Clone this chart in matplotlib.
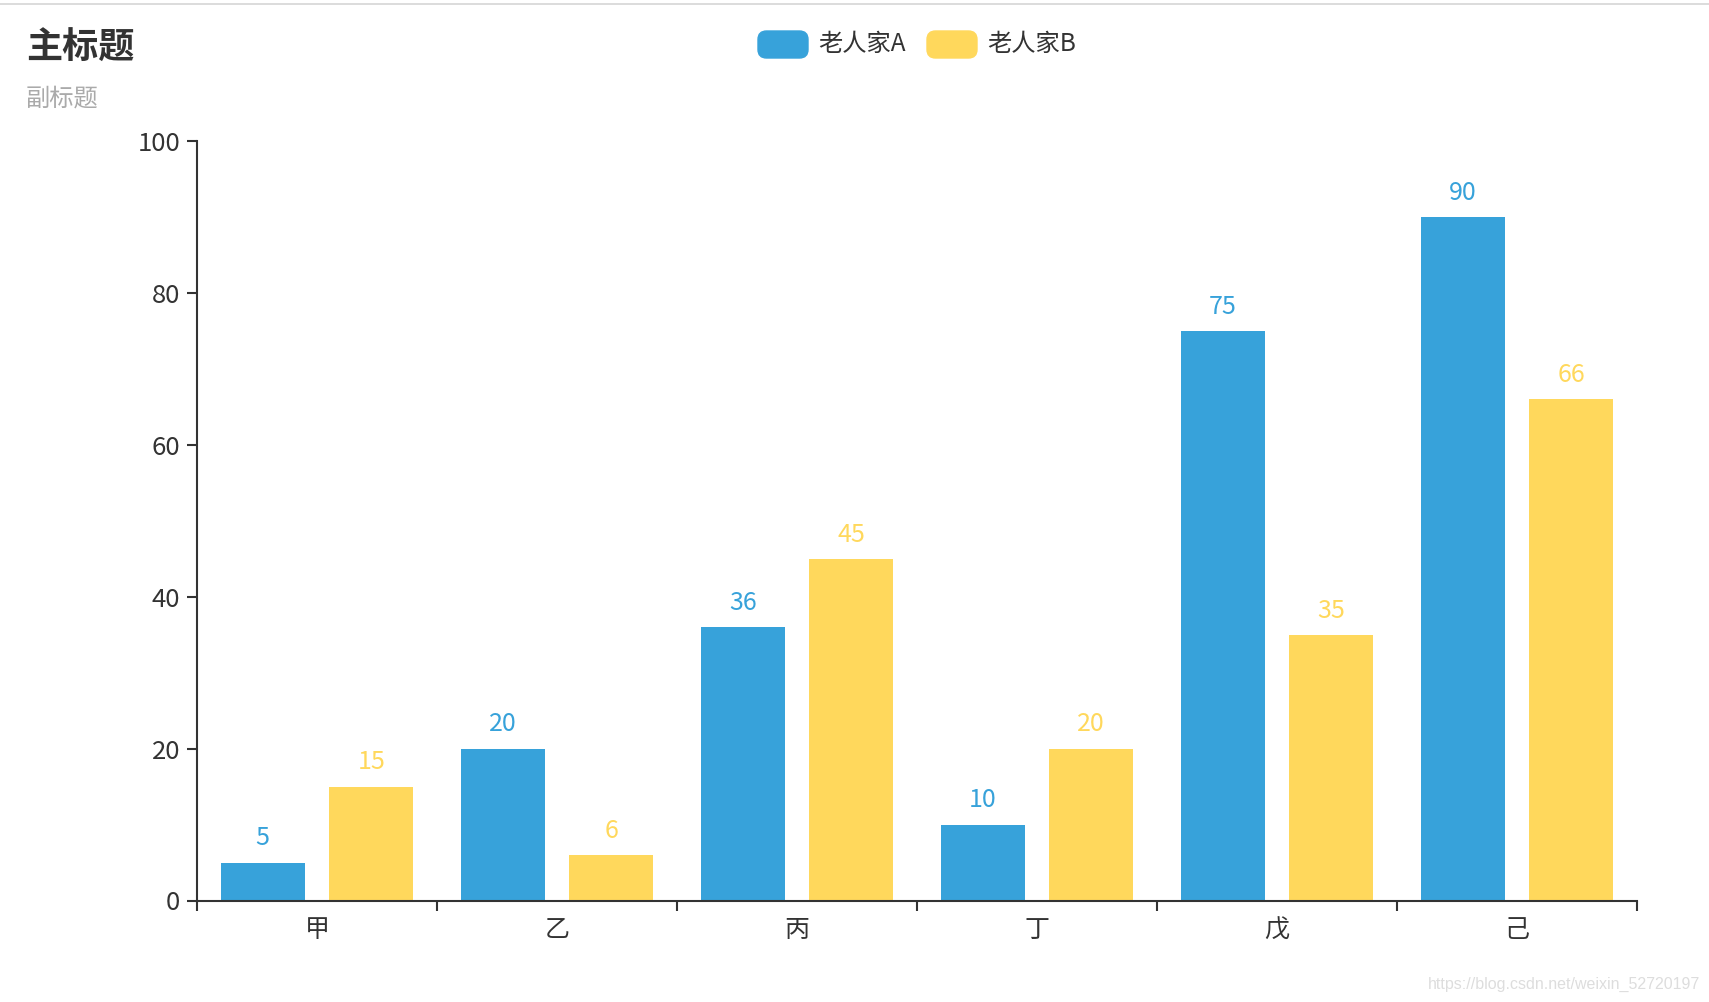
import matplotlib
matplotlib.use("Agg")
import matplotlib.pyplot as plt
import numpy as np
from matplotlib.patches import FancyBboxPatch, Rectangle

plt.rcParams['font.family'] = ['Noto Sans CJK SC', 'DejaVu Sans']

categories = ["甲", "乙", "丙", "丁", "戊", "己"]
series_names = ["老人家A", "老人家B"]
values_a = [5, 20, 36, 10, 75, 90]
values_b = [15, 6, 45, 20, 35, 66]
colors = ["#37A2DA", "#FFD85C"]
y_ticks = [0, 20, 40, 60, 80, 100]

W, H = 1709, 1002
fig = plt.figure(figsize=(W / 100, H / 100), dpi=100)
ax = fig.add_axes([197 / W, 1 - 900.5 / H, 1440 / W, 759.5 / H])

x = np.arange(len(categories))
bw = 0.348
off = 0.226
bars_a = ax.bar(x - off, values_a, width=bw, color=colors[0])
bars_b = ax.bar(x + off, values_b, width=bw, color=colors[1])
ax.bar_label(bars_a, padding=8, color=colors[0], fontsize=18)
ax.bar_label(bars_b, padding=8, color=colors[1], fontsize=18)

ax.set_xlim(-0.5, len(categories) - 0.5)
ax.set_ylim(0, 100)
ax.set_yticks(y_ticks)
ax.set_yticklabels([str(v) for v in y_ticks])
ax.set_xticks(np.arange(len(categories) + 1) - 0.5)
ax.set_xticklabels([])
ax.set_xticks(x, minor=True)
ax.set_xticklabels(categories, minor=True)

for side in ["top", "right"]:
    ax.spines[side].set_visible(False)
for side in ["left", "bottom"]:
    ax.spines[side].set_color("#333333")
    ax.spines[side].set_linewidth(1.5)
ax.tick_params(axis="both", which="major", length=7, width=1.5, color="#333333",
               labelcolor="#333333", labelsize=18.5, pad=5)
ax.tick_params(axis="x", which="minor", length=0, labelcolor="#333333",
               labelsize=18, pad=12)

# title / subtitle
fig.text(26 / W, 1 - 48 / H, "主标题", fontsize=26, fontweight="bold",
         color="#333333", va="center", ha="left")
fig.text(26 / W, 1 - 99 / H, "副标题", fontsize=17.5, color="#aaaaaa",
         va="center", ha="left")

# legend
leg_x = [758, 927]
for lx, name, c in zip(leg_x, series_names, colors):
    fig.add_artist(FancyBboxPatch((lx / W, 1 - 58 / H), 50 / W, 27 / H,
                                  boxstyle="round,pad=0,rounding_size=0.005",
                                  transform=fig.transFigure, color=c,
                                  mutation_aspect=W / H))
    fig.text((lx + 60) / W, 1 - 44 / H, name, fontsize=17.5, color="#333333",
             va="center", ha="left")

# top border line
fig.add_artist(Rectangle((0, 1 - 5 / H), 1, 2 / H, transform=fig.transFigure,
                         color="#dcdcdc", lw=0))

# watermark
fig.text(1700 / W, 1 - 984 / H, "https://blog.csdn.net/weixin_52720197",
         fontsize=11.5, color="#dddddd", ha="right", va="center",
         family="Liberation Sans")

fig.savefig("out.png", dpi=100)
